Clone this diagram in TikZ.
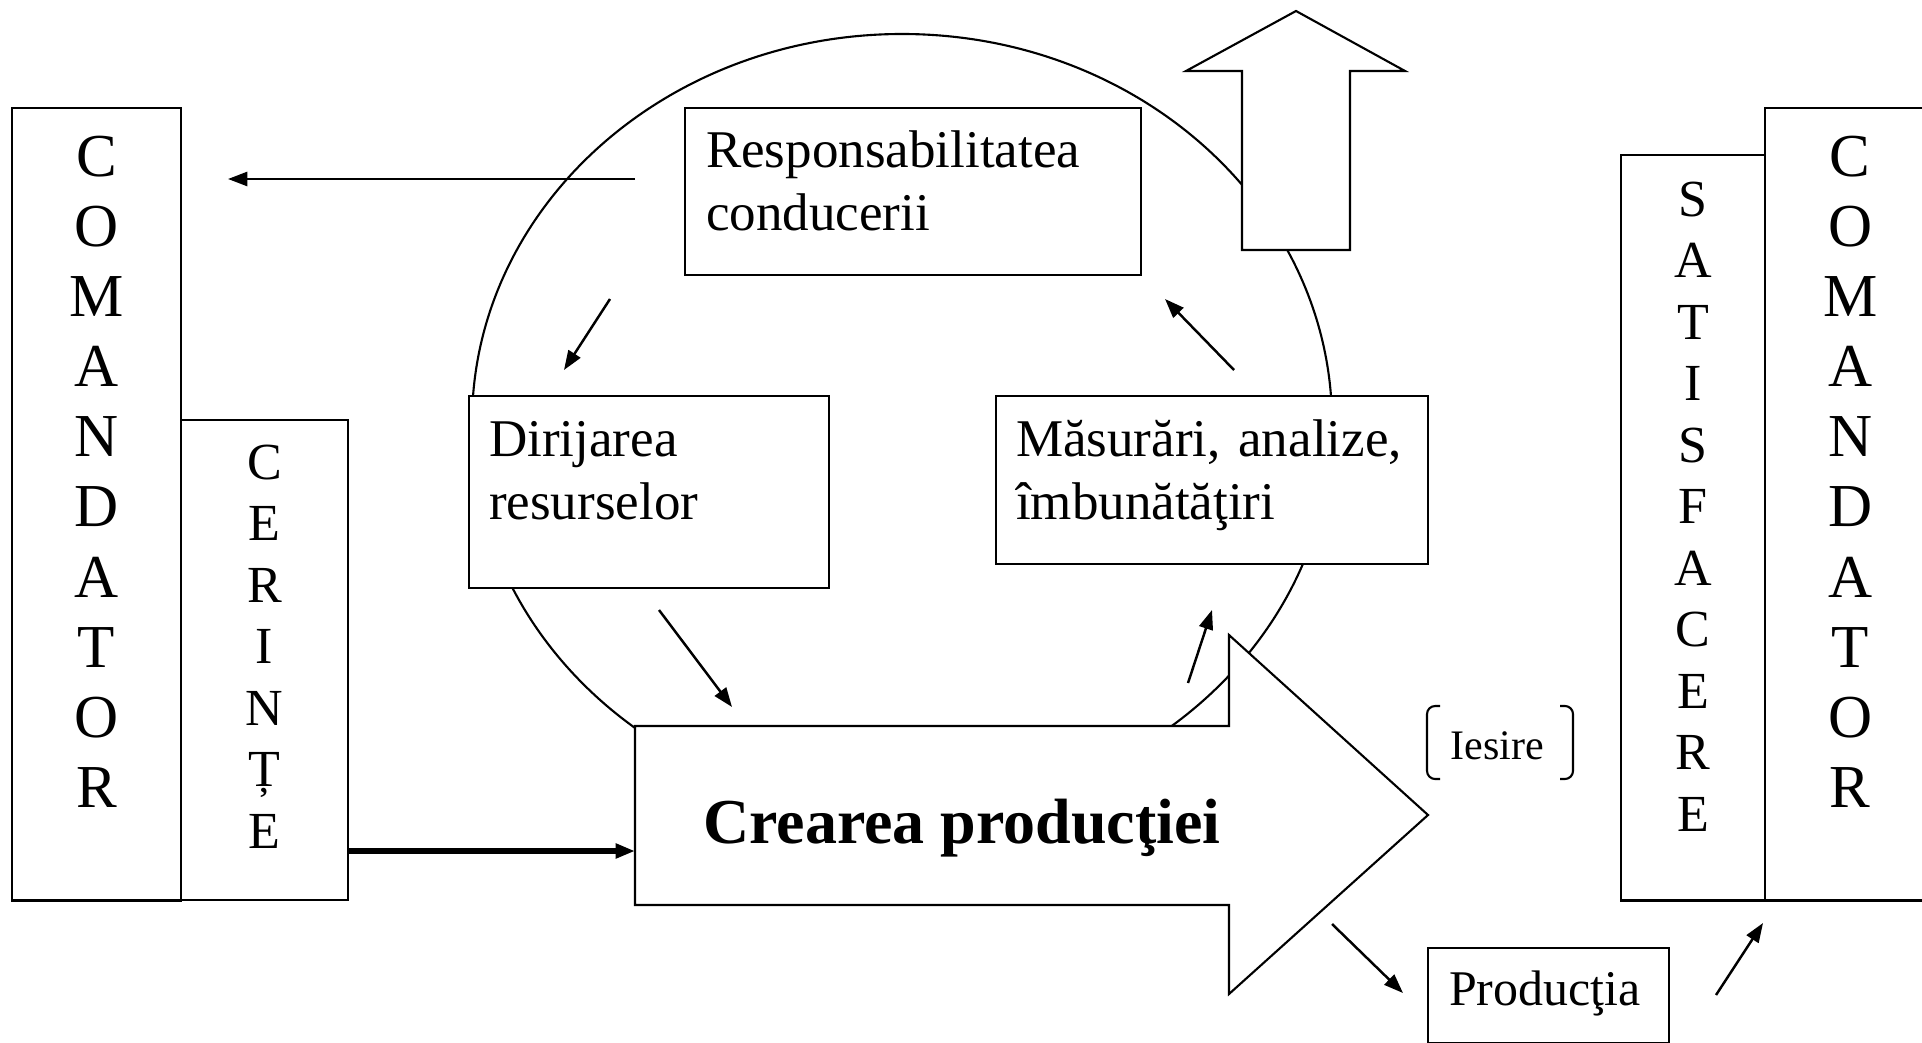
\documentclass[tikz,border=0pt]{standalone}
\usepackage{fontspec}
\setmainfont{Liberation Serif}
\usetikzlibrary{arrows.meta}

\begin{document}
\begin{tikzpicture}[x=0.01cm, y=-0.01cm,
    cutie/.style={draw, fill=white, line width=0.6pt, inner ysep=0pt, anchor=north west},
    litere/.style={cutie, inner xsep=0pt, align=center},
    mare/.style={litere, font=\fontsize{17.35}{19.95}\selectfont},
    mic/.style={litere, font=\fontsize{14.8}{17.5}\selectfont},
    scris/.style={cutie, align=left, font=\fontsize{15.08}{17.92}\selectfont},
    sag/.style={-{Triangle[length=5.5pt,width=4pt]}, line width=0.7pt}]

    \clip (0,0) rectangle (1922,1043);

    % Cercul
    \draw[line width=0.6pt] (902,423) ellipse [x radius=430, y radius=389];

    % Sageata in sus
    \draw[line width=0.6pt, fill=white] (1242,250) -- (1242,71) -- (1186,71) -- (1296,11)
        -- (1405,71) -- (1350,71) -- (1350,250) -- cycle;

    % Sageata mare
    \draw[line width=0.6pt, fill=white] (635,726) -- (1229,726) -- (1229,635) -- (1428,815)
        -- (1229,994) -- (1229,905) -- (635,905) -- cycle;
    \node[font=\fontsize{18.2}{22}\selectfont\bfseries, anchor=base] (creare) at (962,843) {Crearea producţiei};

    % Cutii
    \node[mare, text width=1.69cm, text height=0.68cm, text depth=7.24cm] (com1) at (11,107) {C\\O\\M\\A\\N\\D\\A\\T\\O\\R};
    \node[mic, text width=1.67cm, text height=0.59cm, text depth=4.21cm] (cer) at (180,419) {C\\E\\R\\I\\N\\Ț\\E};
    \node[scris, inner xsep=0.21cm, text width=4.14cm, text height=0.59cm, text depth=1.08cm] (resp) at (684,107) {Responsabilitatea\\conducerii};
    \node[scris, inner xsep=0.20cm, text width=3.20cm, text height=0.60cm, text depth=1.32cm] (dir) at (468,395) {Dirijarea\\resurselor};
    \node[scris, inner xsep=0.20cm, text width=3.92cm, text height=0.60cm, text depth=1.08cm] (mas) at (995,395) {Măsurări, analize,\\îmbunătăţiri};
    \node[cutie, inner xsep=0.21cm, text width=1.99cm, align=left, text height=0.57cm, text depth=0.38cm,
        font=\fontsize{14.2}{17}\selectfont] (prod) at (1427,947) {Producţia};
    \node[mic, text width=1.44cm, text height=0.61cm, text depth=6.84cm] (sat) at (1620,154) {S\\A\\T\\I\\S\\F\\A\\C\\E\\R\\E};
    \node[mare, text width=1.70cm, text height=0.68cm, text depth=7.24cm] (com2) at (1764,107) {C\\O\\M\\A\\N\\D\\A\\T\\O\\R};

    % Iesire
    \node[font=\fontsize{11.95}{14}\selectfont, anchor=base west, inner sep=0pt] (iesire) at (1450,759) {Iesire};
    \draw[line width=0.6pt, rounded corners=2.3pt] (1440,706) -- (1427,706) -- (1427,779) -- (1440,779);
    \draw[line width=0.6pt, rounded corners=2.3pt] (1560,706) -- (1573,706) -- (1573,779) -- (1560,779);

    % Sageti
    \coordinate (respA) at (635,179);
    \coordinate (respB) at (228,179);
    \coordinate (dirA) at (610,299);
    \coordinate (dirB) at (564,370);
    \coordinate (creA) at (659,610);
    \coordinate (creB) at (732,707);
    \coordinate (masA) at (1188,683);
    \coordinate (masB) at (1212,610);
    \coordinate (susA) at (1234,370);
    \coordinate (susB) at (1165,299);
    \coordinate (prodA) at (1332,924);
    \coordinate (prodB) at (1403,993);
    \coordinate (satA) at (1716,995);
    \coordinate (satB) at (1763,923);
    \coordinate (cerA) at (347,851);
    \coordinate (cerB) at (635,851);

    \draw[sag] (respA) -- (respB);
    \draw[sag] (dirA) -- (dirB);
    \draw[sag] (creA) -- (creB);
    \draw[sag] (masA) -- (masB);
    \draw[sag] (susA) -- (susB);
    \draw[sag] (prodA) -- (prodB);
    \draw[sag] (satA) -- (satB);
    \draw[sag, line width=1.5pt] (cerA) -- (cerB);

\end{tikzpicture}
\end{document}
